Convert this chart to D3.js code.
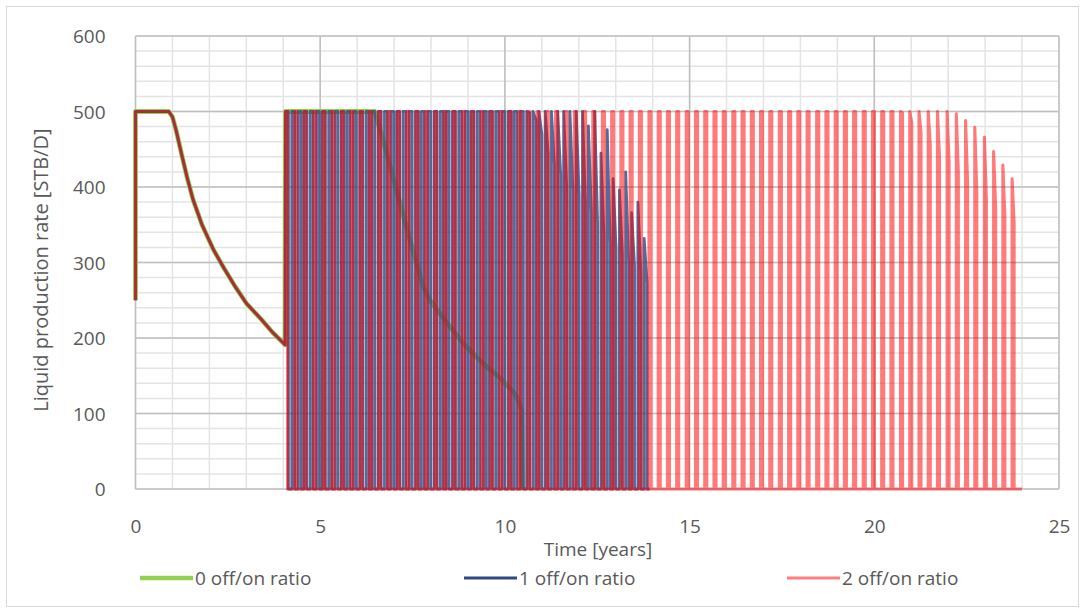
<!DOCTYPE html>
<html><head><meta charset="utf-8">
<script src="https://cdn.jsdelivr.net/npm/d3@7"></script>
<style>body{margin:0;background:#fff} text{font-family:"Open Sans",sans-serif;fill:#595959}</style>
</head><body><svg id="c" width="1084" height="608"></svg>
<script>
// ---------------- data ----------------
const xTicks = [0, 5, 10, 15, 20, 25];
const yTicks = [0, 100, 200, 300, 400, 500, 600];
const seriesNames = ["0 off/on ratio", "1 off/on ratio", "2 off/on ratio"];
const xTitle = "Time [years]";
const yTitle = "Liquid production rate [STB/D]";

// common initial period (all three runs identical)
const baseT = [0, 0, 0.9, 1.0, 1.1, 1.25, 1.4, 1.56, 1.8, 2.11, 2.4, 2.7, 3.0, 3.4, 3.7, 4.05];
const baseQ = [250, 500, 500, 493, 475, 443, 412, 383, 350, 317, 292, 268, 246, 225, 208, 191];

// 0 off/on ratio: continuous production after restart
const contT = [4.06, 6.48, 6.8, 7.1, 7.4, 7.79, 7.97, 8.51, 8.96, 9.41, 9.87, 10.2, 10.32, 10.45, 10.48];
const contQ = [500, 500, 445, 390, 335, 268, 250, 215, 188, 166, 147, 130, 122, 105, 0];

// 1 off/on ratio: cycle start times, peak and end-of-on rates
const blueOnT = [4.06,4.23,4.40,4.56,4.73,4.90,5.06,5.23,5.40,5.57,5.73,5.90,
  6.07,6.24,6.40,6.57,6.74,6.91,7.07,7.24,7.41,7.58,7.74,7.91,
  8.08,8.25,8.41,8.58,8.75,8.92,9.08,9.25,9.42,9.58,9.75,9.92,
  10.09,10.25,10.42,10.59,10.76,10.92,11.09,11.26,11.43,11.59,11.76,11.93,
  12.10,12.26,12.43,12.60,12.77,12.93,13.10,13.27,13.43,13.60,13.77];
const bluePeak = [500,500,500,500,500,500,500,500,500,500,500,500,
  500,500,500,500,500,500,500,500,500,500,500,500,
  500,500,500,500,500,500,500,500,500,500,500,500,
  500,500,500,500,500,500,500,500,500,500,500,500,
  500,481,500,445,476,411,396,420,366,380,332];
const blueEnd = [500,500,500,500,500,500,500,500,500,500,500,500,
  500,500,500,500,500,500,500,500,500,500,500,500,
  500,500,500,500,500,500,500,500,500,500,500,500,
  500,500,500,498,489,470,445,430,416,405,396,389,
  380,368,352,340,325,318,310,302,295,288,273];
const blueOnLen = 0.08;
const blueLastT = 13.92;

// 2 off/on ratio
const pinkOnT = [4.06,4.31,4.56,4.82,5.07,5.32,5.57,5.83,6.08,6.33,6.58,6.83,
  7.09,7.34,7.59,7.84,8.10,8.35,8.60,8.85,9.10,9.36,9.61,9.86,
  10.11,10.37,10.62,10.87,11.12,11.37,11.63,11.88,12.13,12.38,12.64,12.89,
  13.14,13.39,13.64,13.90,14.15,14.40,14.65,14.91,15.16,15.41,15.66,15.91,
  16.17,16.42,16.67,16.92,17.17,17.43,17.68,17.93,18.18,18.44,18.69,18.94,
  19.19,19.44,19.70,19.95,20.20,20.45,20.71,20.96,21.21,21.46,21.71,21.97,
  22.22,22.47,22.72,22.98,23.23,23.48,23.73];
const pinkPeak = [500,500,500,500,500,500,500,500,500,500,500,500,
  500,500,500,500,500,500,500,500,500,500,500,500,
  500,500,500,500,500,500,500,500,500,500,500,500,
  500,500,500,500,500,500,500,500,500,500,500,500,
  500,500,500,500,500,500,500,500,500,500,500,500,
  500,500,500,500,500,500,500,500,500,500,500,500,
  497,488,479,466,447,429,411];
const pinkEnd = [500,500,500,500,500,500,500,500,500,500,500,500,
  500,500,500,500,500,500,500,500,500,500,500,500,
  500,500,500,500,500,500,500,500,500,500,500,500,
  500,500,500,500,500,500,500,500,500,500,500,500,
  500,500,500,500,500,500,500,500,500,500,500,500,
  500,500,500,500,500,500,498,485,471,455,440,432,
  418,407,394,383,372,361,352];
const pinkOnLen = 0.055;
const pinkLastT = 24.0;

// ---------------- drawing ----------------
const svg = d3.select("#c");
const W = 1084, H = 608;
const m = {l: 135.5, r: 1084 - 1059, t: 36, b: 608 - 489};
const x = d3.scaleLinear().domain([0, 25]).range([m.l, W - m.r]);
const y = d3.scaleLinear().domain([0, 600]).range([H - m.b, m.t]);

svg.append("rect").attr("x", 6.5).attr("y", 6.5).attr("width", 1072).attr("height", 600)
  .attr("fill", "#fff").attr("stroke", "#d9d9d9");

const g = svg.append("g");
g.selectAll(".vmin").data(x.ticks(25)).enter().append("line")
  .attr("x1", d => x(d)).attr("x2", d => x(d)).attr("y1", y(0)).attr("y2", y(600))
  .attr("stroke", "#e4e4e4").attr("stroke-width", 1.5);
g.selectAll(".hmin").data(y.ticks(30)).enter().append("line")
  .attr("y1", d => y(d)).attr("y2", d => y(d)).attr("x1", x(0)).attr("x2", x(25))
  .attr("stroke", "#e4e4e4").attr("stroke-width", 1.5);
g.selectAll(".vmaj").data(xTicks).enter().append("line")
  .attr("x1", d => x(d)).attr("x2", d => x(d)).attr("y1", y(0)).attr("y2", y(600))
  .attr("stroke", "#bfbfbf").attr("stroke-width", 1.5);
g.selectAll(".hmaj").data(yTicks).enter().append("line")
  .attr("y1", d => y(d)).attr("y2", d => y(d)).attr("x1", x(0)).attr("x2", x(25))
  .attr("stroke", "#bfbfbf").attr("stroke-width", 1.5);

const ax = svg.append("g").attr("transform", `translate(0,${y(0) + 30})`)
  .call(d3.axisBottom(x).tickValues(xTicks).tickSize(0).tickPadding(0));
ax.select(".domain").remove();
ax.selectAll("text").attr("font-size", 19).attr("font-family", "Open Sans").attr("fill", "#595959");
const ay = svg.append("g").attr("transform", `translate(${x(0) - 30},0)`)
  .call(d3.axisLeft(y).tickValues(yTicks).tickSize(0).tickPadding(0));
ay.select(".domain").remove();
ay.selectAll("text").attr("font-size", 19).attr("font-family", "Open Sans").attr("fill", "#595959").attr("dy", "0.35em");

svg.append("text").attr("x", 598).attr("y", 556).attr("text-anchor", "middle")
  .attr("font-size", 19).text(xTitle);
svg.append("text").attr("transform", `translate(48,270) rotate(-90)`).attr("text-anchor", "middle")
  .attr("font-size", 20).text(yTitle);

function basePts() { return baseT.map((t, i) => [t, baseQ[i]]); }
const greenPts = basePts().concat(contT.map((t, i) => [t, contQ[i]]));
function cyclePts(onT, peak, end, len, lastT) {
  const p = basePts();
  onT.forEach((t, k) => {
    if (k > 0) p.push([t, 0]);
    p.push([t, peak[k]]);
    p.push([t + len, end[k]]);
    p.push([t + len, 0]);
  });
  p.push([lastT, 0]);
  return p;
}
const bluePts = cyclePts(blueOnT, bluePeak, blueEnd, blueOnLen, blueLastT);
const pinkPts = cyclePts(pinkOnT, pinkPeak, pinkEnd, pinkOnLen, pinkLastT);

const line = d3.line().x(d => x(d[0])).y(d => y(d[1]));
const styles = [
  {pts: greenPts, color: "#92d050", w: 4.8, op: 1},
  {pts: bluePts, color: "#2f4b86", w: 2.8, op: 0.82},
  {pts: pinkPts, color: "#ff0000", w: 3.1, op: 0.52}
];
styles.forEach(s => {
  svg.append("path").attr("d", line(s.pts)).attr("fill", "none")
    .attr("stroke", s.color).attr("stroke-width", s.w).attr("stroke-opacity", s.op)
    .attr("stroke-linejoin", "round");
});

const legX = [140, 464, 787];
const legColors = ["#92d050", "#2f4b86", "#ff0000"];
const legOp = [1, 1, 0.5];
const legW = [4.5, 3, 3];
seriesNames.forEach((n, i) => {
  svg.append("line").attr("x1", legX[i]).attr("x2", legX[i] + 53).attr("y1", 578).attr("y2", 578)
    .attr("stroke", legColors[i]).attr("stroke-width", legW[i]).attr("stroke-opacity", legOp[i]);
  svg.append("text").attr("x", legX[i] + 55).attr("y", 578).attr("dy", "0.35em")
    .attr("font-size", 19).text(n);
});
</script></body></html>
